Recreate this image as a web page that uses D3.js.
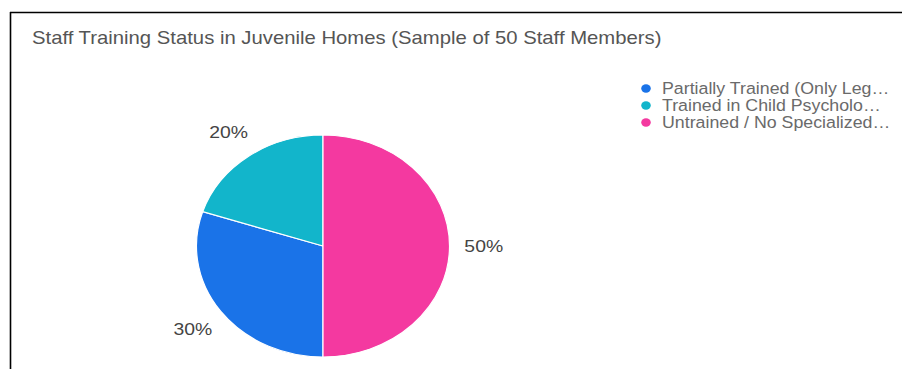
<!DOCTYPE html>
<html>
<head>
<meta charset="utf-8">
<script src="https://cdn.jsdelivr.net/npm/d3@7"></script>
<style>
  html, body { margin: 0; padding: 0; background: #fff; }
  svg { display: block; }
  text { font-family: Arial, "Liberation Sans", sans-serif; }
</style>
</head>
<body>
<svg id="chart" width="902" height="369"></svg>
<script>
// Staff training breakdown (sample of 50 staff members)
const categories = [
  "Partially Trained (Only Leg…",
  "Trained in Child Psycholo…",
  "Untrained / No Specialized…"
];
const shares = [30, 20, 50];
const colors = ["#1a73e8", "#12b5cb", "#f439a0"];
const title = "Staff Training Status in Juvenile Homes (Sample of 50 Staff Members)";

const W = 902, H = 369;
const sx = 1.14;             // horizontal stretch of the drawing
const radius = 111;
const cx = 323 / sx, cy = 246;
const labelRadius = 141;

const svg = d3.select("#chart");

// frame lines along the top and left edges
svg.append("line")
  .attr("x1", 10).attr("x2", W).attr("y1", 12.5).attr("y2", 12.5)
  .attr("stroke", "#000").attr("stroke-width", 1.6);
svg.append("line")
  .attr("x1", 10.5).attr("x2", 10.5).attr("y1", 12).attr("y2", H)
  .attr("stroke", "#000").attr("stroke-width", 1.6);

const g = svg.append("g").attr("transform", `scale(${sx},1)`);

g.append("text")
  .attr("x", 32 / sx).attr("y", 44)
  .attr("font-size", 17.8)
  .attr("fill", "#555")
  .text(title);

const data = categories.map((c, i) => ({ name: c, value: shares[i], color: colors[i] }));

// slices sorted by value, largest first, clockwise from 12 o'clock
const pie = d3.pie().value(d => d.value).sort((a, b) => b.value - a.value);
const arcs = pie(data);
const arc = d3.arc().innerRadius(0).outerRadius(radius);
const labelArc = d3.arc().innerRadius(labelRadius).outerRadius(labelRadius);

const pg = g.append("g").attr("transform", `translate(${cx},${cy})`);
pg.selectAll("path.slice")
  .data(arcs)
  .join("path")
  .attr("class", "slice")
  .attr("d", arc)
  .attr("fill", d => d.data.color)
  .attr("stroke", "#fff")
  .attr("stroke-width", 1.2)
  .attr("vector-effect", "non-scaling-stroke");

pg.selectAll("text.pct")
  .data(arcs)
  .join("text")
  .attr("class", "pct")
  .attr("transform", d => `translate(${labelArc.centroid(d)})`)
  .attr("text-anchor", "middle")
  .attr("dy", "0.36em")
  .attr("font-size", 17)
  .attr("fill", "#444")
  .text(d => `${d.data.value}%`);

// legend
const legend = g.append("g");
const rows = legend.selectAll("g")
  .data(data)
  .join("g")
  .attr("transform", (d, i) => `translate(0,${88.5 + i * 17})`);
rows.append("circle")
  .attr("cx", 646 / sx).attr("cy", 0).attr("r", 4.2)
  .attr("fill", d => d.color);
rows.append("text")
  .attr("x", 662 / sx).attr("y", 0)
  .attr("dy", "0.36em")
  .attr("font-size", 15.6)
  .attr("fill", "#6a6a6a")
  .text(d => d.name);
</script>
</body>
</html>
